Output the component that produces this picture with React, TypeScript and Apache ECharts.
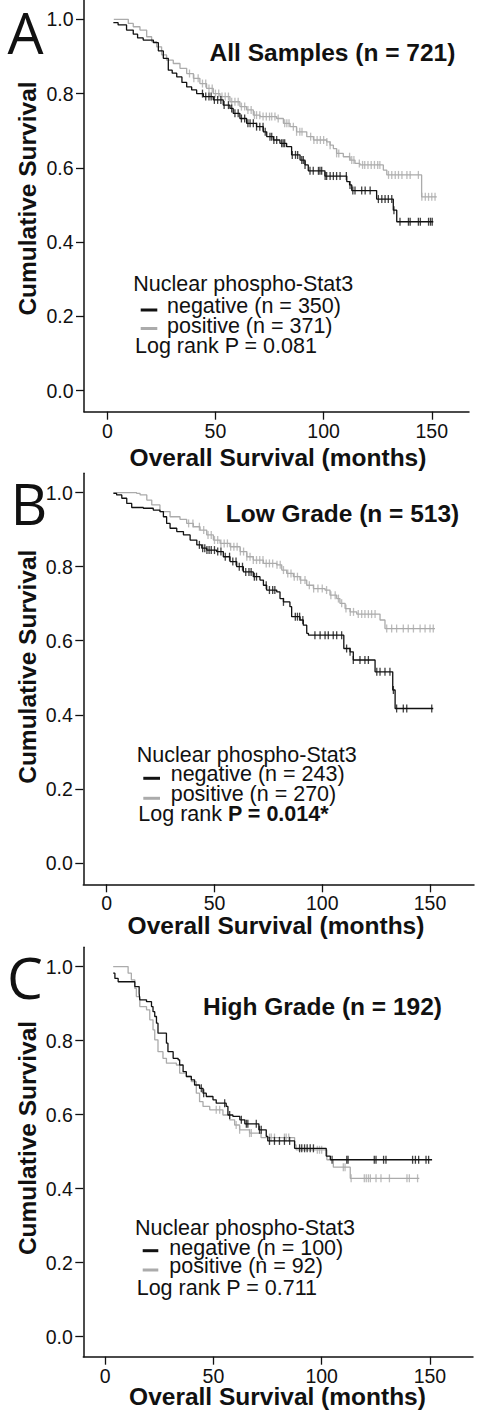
import React, { useEffect, useRef } from 'react';
import * as echarts from 'echarts';

const FONT = '"Liberation Sans", Arial, Helvetica, sans-serif';
const LETTER_FONT = '"Open Sans", "Noto Sans", sans-serif';
const BLACK = '#111111';
const GREY = '#ababab';

// ---------- Panel A: All samples ----------
const aNegative: [number, number][] = [
  [2.8, 0.991], [5, 0.985], [8.9, 0.971], [12, 0.96], [14, 0.95], [16.6, 0.944], [21.3, 0.937],
  [23.6, 0.915], [25.9, 0.895], [28.2, 0.863], [30, 0.855], [32.1, 0.845], [34.5, 0.83],
  [36.7, 0.818], [39, 0.81], [41.3, 0.8], [44.4, 0.792], [49, 0.783], [53.6, 0.769], [56.7, 0.76],
  [58.2, 0.747], [61.3, 0.733], [64.4, 0.72], [69, 0.711], [72.1, 0.697], [73.7, 0.684],
  [76.8, 0.675], [79.8, 0.666], [82.9, 0.657], [85.2, 0.635], [89.1, 0.621], [91.4, 0.608],
  [92.9, 0.592], [100.6, 0.578], [110.7, 0.563], [112, 0.554], [113, 0.539], [124.5, 0.516],
  [132.2, 0.486], [133.8, 0.455], [150.7, 0.455],
];
const aPositive: [number, number][] = [
  [3, 1.0], [9.7, 0.989], [12, 0.98], [15.1, 0.971], [18.2, 0.953], [20.5, 0.94], [22.8, 0.926],
  [25.1, 0.904], [27.4, 0.89], [30.5, 0.881], [33.6, 0.868], [36.7, 0.854], [39.8, 0.841],
  [42.8, 0.827], [45.9, 0.814], [49, 0.8], [52.1, 0.792], [56.7, 0.778], [61.3, 0.765],
  [64.4, 0.756], [67.5, 0.742], [70.6, 0.738], [78.3, 0.733], [81.4, 0.72], [84.5, 0.711],
  [87.5, 0.697], [92.2, 0.684], [95.3, 0.675], [101.4, 0.67], [103, 0.661], [104.5, 0.652],
  [106, 0.639], [109.1, 0.63], [112.2, 0.621], [114.5, 0.612], [116.8, 0.608], [127.6, 0.594],
  [129.2, 0.581], [145.3, 0.522], [152.3, 0.522],
];
const aNegativeCensored = [
  44, 45.5, 47, 48, 49.5, 51, 52.5, 54, 56, 57.5, 59, 60.5, 62, 63.5, 65, 66, 67.5, 69, 70.5, 72,
  73, 75.2, 76, 77, 78.3, 80.6, 81.3, 82, 85.5, 87, 88, 89.9, 90.6, 91.4, 93.7, 95.2, 97.6, 98.3,
  99.1, 100.7, 101.4, 103, 104.5, 106, 107.6, 110.5, 112.2, 113.5, 114.5, 117.6, 119.2, 121.5,
  125.3, 126.9, 128.4, 129.9, 131.5, 132.5, 135.3, 139.2, 140, 143.8, 144.7, 148.5, 149.4, 150.2,
];
const aPositiveCensored = [
  38, 40, 42, 44, 45.5, 47, 48.5, 50, 51.5, 53, 54.5, 56, 57.5, 59, 60.5, 62, 63.5, 65, 66.5, 68,
  69, 70.5, 72, 73.5, 75, 76, 77.5, 79, 82, 83, 84, 86, 87.5, 89, 90, 94, 95.5, 97, 98.5, 100,
  101.5, 103, 106, 107, 112, 113, 114, 116.5, 118, 119, 120.5, 122, 123.5, 125, 126, 130, 131.5,
  133.1, 134.6, 136.2, 138.5, 140, 143.8, 145.4, 147, 148.5, 150, 151.5,
];

// ---------- Panel B: Low grade ----------
const bNegative: [number, number][] = [
  [3.1, 0.998], [4.6, 0.994], [7, 0.985], [9.3, 0.971], [11.6, 0.96], [17, 0.958], [21.6, 0.953],
  [24.7, 0.949], [26.3, 0.935], [27.8, 0.917], [29.4, 0.904], [32.5, 0.895], [35.6, 0.886],
  [38.7, 0.872], [41.8, 0.859], [44.1, 0.85], [46.4, 0.845], [51, 0.841], [54.1, 0.827],
  [57.2, 0.814], [60.3, 0.8], [63.4, 0.786], [68, 0.773], [71.1, 0.764], [72.7, 0.75],
  [74.2, 0.737], [78.9, 0.732], [80.4, 0.714], [82, 0.705], [85, 0.692], [85.8, 0.665],
  [89.7, 0.656], [91.2, 0.642], [92.8, 0.62], [93.6, 0.615], [110, 0.579], [112.9, 0.57],
  [114.4, 0.548], [124.5, 0.516], [132.7, 0.467], [133.8, 0.417], [151.5, 0.417],
];
const bPositive: [number, number][] = [
  [3.1, 1.0], [13.9, 0.998], [15.5, 0.994], [18.6, 0.98], [20.9, 0.967], [24.7, 0.949],
  [29.4, 0.935], [34, 0.928], [37.1, 0.917], [40.2, 0.908], [43.3, 0.899], [46.4, 0.886],
  [49.5, 0.872], [52.6, 0.863], [57.2, 0.854], [61.9, 0.841], [65, 0.827], [68, 0.818],
  [72.7, 0.809], [78.9, 0.805], [81.2, 0.791], [83.5, 0.782], [86.6, 0.773], [89.7, 0.764],
  [92.8, 0.75], [95.9, 0.741], [101.3, 0.737], [103.6, 0.723], [106.7, 0.714], [108.2, 0.701],
  [110.6, 0.687], [112.9, 0.678], [116, 0.672], [126.8, 0.656], [129.1, 0.633], [152.3, 0.633],
];
const bNegativeCensored = [
  43, 44.5, 45.5, 46.5, 47.5, 48.5, 50, 51.5, 53, 55, 57, 58.5, 60, 61.5, 63, 64.5, 66, 67, 68.5,
  69.5, 74, 75.5, 77, 78, 82, 87.5, 88.5, 89.5, 91, 96.6, 99, 101.3, 102.8, 105.1, 106.7, 109,
  111.3, 112.9, 114.4, 117.5, 119.8, 121.4, 125.3, 126.8, 129.1, 131.4, 133, 134.5, 137.6,
  139.2, 150.8,
];
const bPositiveCensored = [
  38, 40, 43, 45, 47, 48.5, 50, 51.5, 53, 54.5, 56, 57.5, 59, 60.5, 62, 63.5, 65, 66.5, 68, 69.5,
  71, 72.5, 74, 75.5, 77, 79, 80.5, 82, 84, 85.5, 87, 88.5, 90, 92, 94, 96, 98, 100, 102, 104,
  106, 107.5, 109, 111, 113, 114.5, 116.7, 118.3, 119.8, 121.4, 122.9, 124.5, 129.9, 132.2,
  134.5, 137.6, 139.9, 142.3, 145.4, 147.7, 150, 151.5,
];

// ---------- Panel C: High grade ----------
const cNegative: [number, number][] = [
  [3.7, 0.982], [4.5, 0.968], [6, 0.959], [13.7, 0.946], [15.7, 0.928], [16, 0.91], [19.1, 0.905],
  [21.4, 0.892], [22.1, 0.878], [22.9, 0.865], [23.7, 0.847], [24.4, 0.82], [28.3, 0.793],
  [29, 0.77], [31.4, 0.752], [33.7, 0.748], [34.4, 0.734], [36, 0.716], [37.5, 0.703],
  [39.8, 0.694], [41.3, 0.68], [43.6, 0.671], [45.2, 0.658], [46.7, 0.649], [49.8, 0.64],
  [51.3, 0.631], [55.9, 0.622], [56.7, 0.599], [59, 0.595], [62.2, 0.586], [64.5, 0.575],
  [71, 0.559], [74.4, 0.541], [75.1, 0.529], [87.5, 0.509], [102.1, 0.488], [104, 0.478],
  [151, 0.478],
];
const cPositive: [number, number][] = [
  [3.7, 1.0], [10.6, 0.982], [12.1, 0.964], [13.7, 0.941], [14.4, 0.919], [16, 0.892],
  [19.1, 0.883], [20.6, 0.856], [22.1, 0.829], [22.9, 0.802], [24.4, 0.77], [26.7, 0.752],
  [28.3, 0.739], [32.9, 0.734], [34.4, 0.712], [37.5, 0.703], [39.8, 0.689], [42.1, 0.658],
  [43.6, 0.635], [45.2, 0.622], [48.3, 0.613], [54.4, 0.599], [57.5, 0.586], [59.8, 0.572],
  [62.1, 0.559], [66.7, 0.55], [72, 0.538], [87.5, 0.518], [88.2, 0.505], [102.4, 0.478],
  [105.4, 0.458], [113.2, 0.428], [145.1, 0.428],
];
const cNegativeCensored = [
  44.4, 45.5, 55.2, 57.5, 62.9, 65.2, 65.9, 69.8, 71.3, 72.1, 75.9, 78.2, 80.5, 82.8, 85.2, 89.8,
  90.8, 92.1, 93.3, 94.7, 96.2, 104.8, 111.6, 112.2, 124.3, 125.1, 128.6, 129.7, 142, 143.3,
  144.8, 148.2, 149.4,
];
const cPositiveCensored = [
  51.3, 52.9, 60.5, 62.1, 66.7, 67.5, 75.9, 76.7, 78.2, 82.8, 83.6, 84.8, 98, 99, 100, 110,
  110.8, 113.6, 119.7, 120.6, 121.6, 122.5, 125.1, 127.4, 131.3, 139.4, 140.5, 144.3,
];

// ---------- Texts and ticks ----------
const panelLetters = ['A', 'B', 'C'];
const panelTitles = ['All Samples (n = 721)', 'Low Grade (n = 513)', 'High Grade (n = 192)'];
const legendHeading = 'Nuclear phospho-Stat3';
const negativeLabels = ['negative (n = 350)', 'negative (n = 243)', 'negative (n = 100)'];
const positiveLabels = ['positive (n = 371)', 'positive (n = 270)', 'positive (n = 92)'];
const pValues = ['0.081', '0.014*', '0.711'];
const pSignificant = [false, true, false];
const yTicks = [0, 0.2, 0.4, 0.6, 0.8, 1.0];
const xTicks = [0, 50, 100, 150];
const yAxisTitle = 'Cumulative Survival';
const xAxisTitle = 'Overall Survival (months)';

const negativeCurves = [aNegative, bNegative, cNegative];
const positiveCurves = [aPositive, bPositive, cPositive];
const negativeCensored = [aNegativeCensored, bNegativeCensored, cNegativeCensored];
const positiveCensored = [aPositiveCensored, bPositiveCensored, cPositiveCensored];

// ---------- Layout (pixels) ----------
const layouts = [
  {
    grid: { left: 84, top: 0, width: 385, height: 411.7 },
    x: [-10.77, 167.2], y: [-0.0565, 1.052],
    letter: [25.5, 32], title: [332.5, 52], yTitle: [27, 198.5], xTitle: [278, 457],
    heading: [133.3, 284.2], neg: [167, 306], pos: [167, 326], sym: [140.7, 16.6, 310, 328.5], logRank: [135, 346],
  },
  {
    grid: { left: 83.3, top: 473.3, width: 390.7, height: 411 },
    x: [-10.86, 170.4], y: [-0.058, 1.0524],
    letter: [29, 503], title: [342.5, 513.3], yTitle: [27, 666.7], xTitle: [276, 925],
    heading: [136.7, 754.5], neg: [170.7, 774.3], pos: [170.7, 794.3], sym: [143.3, 16.7, 778.3, 798.3], logRank: [138.3, 814.3],
  },
  {
    grid: { left: 83.3, top: 947.3, width: 389.7, height: 409.4 },
    x: [-10.1, 169.9], y: [-0.054, 1.052],
    letter: [25, 977], title: [322.5, 1006.7], yTitle: [27, 1138], xTitle: [277.5, 1396.7],
    heading: [135, 1227.8], neg: [169.3, 1247.6], pos: [169.3, 1266], sym: [142.7, 15.6, 1250.7, 1270], logRank: [136.7, 1287.6],
  },
];

const LEGEND_SIZE = 21.5;
const TICK_SIZE = 19.5;

function survivalAt(curve: [number, number][], t: number): number {
  let s = curve[0][1];
  for (const [ti, si] of curve) {
    if (ti <= t) s = si;
    else break;
  }
  return s;
}

function txt(x: number, y: number, text: string, size: number, weight: string, align: string, extra: any = {}) {
  const { fontFamily, lineHeight, ...rest } = extra;
  return {
    type: 'text',
    x,
    y,
    silent: true,
    ...rest,
    style: {
      text,
      fontSize: size,
      fontWeight: weight,
      fontFamily: fontFamily || FONT,
      lineHeight: lineHeight || Math.round(size * 1.1),
      fill: BLACK,
      align,
      verticalAlign: 'middle',
      textAlign: align,
      textVerticalAlign: 'middle',
    },
  };
}

function buildOption() {
  const grids: any[] = [];
  const xAxes: any[] = [];
  const yAxes: any[] = [];
  const series: any[] = [];
  const graphics: any[] = [];

  layouts.forEach((L, i) => {
    grids.push({ ...L.grid, containLabel: false });
    xAxes.push({
      type: 'value', gridIndex: i, min: L.x[0], max: L.x[1],
      axisLine: { show: true, onZero: false, lineStyle: { color: BLACK, width: 1.5 } },
      axisTick: { show: true, length: 8, customValues: xTicks, lineStyle: { color: BLACK, width: 1.3 } },
      axisLabel: { customValues: xTicks, fontSize: TICK_SIZE, color: BLACK, fontFamily: FONT, margin: 9, formatter: (v: number) => String(Math.round(v)) },
      splitLine: { show: false },
    });
    yAxes.push({
      type: 'value', gridIndex: i, min: L.y[0], max: L.y[1],
      axisLine: { show: true, onZero: false, lineStyle: { color: BLACK, width: 1.5 } },
      axisTick: { show: true, length: 8, customValues: yTicks, lineStyle: { color: BLACK, width: 1.3 } },
      axisLabel: { customValues: yTicks, fontSize: TICK_SIZE, color: BLACK, fontFamily: FONT, margin: 10.5, formatter: (v: number) => v.toFixed(1) },
      splitLine: { show: false },
    });

    const groups = [
      { curve: positiveCurves[i], cens: positiveCensored[i], color: GREY, z: 2 },
      { curve: negativeCurves[i], cens: negativeCensored[i], color: BLACK, z: 3 },
    ];
    groups.forEach((g) => {
      series.push({
        type: 'line', xAxisIndex: i, yAxisIndex: i, step: 'end', data: g.curve,
        showSymbol: false, symbol: 'none', z: g.z,
        lineStyle: { color: g.color, width: 1.3 },
      });
      series.push({
        type: 'scatter', xAxisIndex: i, yAxisIndex: i, z: g.z,
        data: g.cens.map((t) => [t, survivalAt(g.curve, t)]),
        symbol: 'rect', symbolSize: [1.3, 8],
        itemStyle: { color: g.color },
      });
    });

    // panel letter
    graphics.push(txt(L.letter[0], L.letter[1], panelLetters[i], 57, 'normal', 'center', { fontFamily: LETTER_FONT, lineHeight: 44 }));
    // title
    graphics.push(txt(L.title[0], L.title[1], panelTitles[i], 24.5, 'bold', 'center'));
    // axis titles
    graphics.push(txt(L.yTitle[0], L.yTitle[1], yAxisTitle, 24.5, 'bold', 'center', { rotation: Math.PI / 2 }));
    graphics.push(txt(L.xTitle[0], L.xTitle[1], xAxisTitle, 24.5, 'bold', 'center'));
    // legend
    graphics.push(txt(L.heading[0], L.heading[1], legendHeading, LEGEND_SIZE, 'normal', 'left', { lineHeight: 18 }));
    graphics.push(txt(L.neg[0], L.neg[1], negativeLabels[i], LEGEND_SIZE, 'normal', 'left', { lineHeight: 18 }));
    graphics.push(txt(L.pos[0], L.pos[1], positiveLabels[i], LEGEND_SIZE, 'normal', 'left', { lineHeight: 18 }));
    graphics.push({ type: 'rect', silent: true, shape: { x: L.sym[0], y: L.sym[2] - 1.5, width: L.sym[1], height: 3 }, style: { fill: BLACK } });
    graphics.push({ type: 'rect', silent: true, shape: { x: L.sym[0], y: L.sym[3] - 1.5, width: L.sym[1], height: 3 }, style: { fill: GREY } });
    const pText = pSignificant[i] ? '{n|Log rank }{b|P = ' + pValues[i] + '}' : '{n|Log rank P = ' + pValues[i] + '}';
    graphics.push({
      type: 'text', x: L.logRank[0], y: L.logRank[1], silent: true,
      style: {
        text: pText, fill: BLACK, align: 'left', verticalAlign: 'middle', textAlign: 'left', textVerticalAlign: 'middle',
        fontFamily: FONT, fontSize: LEGEND_SIZE, lineHeight: 18,
        rich: {
          n: { fontFamily: FONT, fontSize: LEGEND_SIZE, fontWeight: 'normal', fill: BLACK, color: BLACK, lineHeight: 18 },
          b: { fontFamily: FONT, fontSize: LEGEND_SIZE, fontWeight: 'bold', fill: BLACK, color: BLACK, lineHeight: 18 },
        },
      },
    });
  });

  return {
    animation: false,
    backgroundColor: '#ffffff',
    grid: grids,
    xAxis: xAxes,
    yAxis: yAxes,
    series,
    graphic: { elements: graphics },
  };
}

export default function App() {
  const ref = useRef<HTMLDivElement>(null);
  useEffect(() => {
    if (!ref.current) return;
    const chart = echarts.init(ref.current, undefined, { renderer: 'svg' });
    chart.setOption(buildOption() as any);
    return () => chart.dispose();
  }, []);
  return (
    <div
      ref={ref}
      style={{ position: 'absolute', left: 0, top: 0, width: 482, height: 1414, background: '#fff' }}
    />
  );
}
